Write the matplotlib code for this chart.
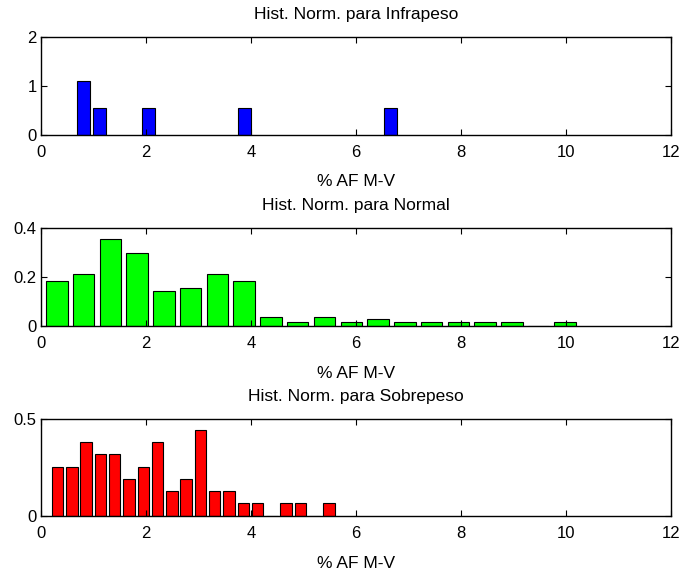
import matplotlib
matplotlib.use('Agg')
import matplotlib.pyplot as plt
from matplotlib.ticker import FormatStrFormatter

plt.rcParams['font.family'] = ['Liberation Sans', 'DejaVu Sans']
plt.rcParams['font.size'] = 12

# Infrapeso
infra_x = [0.81, 1.12, 2.04, 3.88, 6.66]
infra_y = [1.09, 0.545, 0.545, 0.545, 0.545]
infra_w = 0.25

# Normal
normal_x = [0.30, 0.81, 1.32, 1.83, 2.34, 2.85, 3.36, 3.87, 4.38, 4.89,
            5.40, 5.91, 6.42, 6.93, 7.44, 7.95, 8.46, 8.97, 9.48, 9.98]
normal_y = [0.185, 0.215, 0.358, 0.301, 0.146, 0.158, 0.215, 0.185, 0.040, 0.016,
            0.040, 0.016, 0.028, 0.016, 0.016, 0.016, 0.016, 0.016, 0.0, 0.016]
normal_w = 0.41

# Sobrepeso
sobre_x = [0.317, 0.589, 0.861, 1.133, 1.405, 1.677, 1.949, 2.221, 2.493, 2.765,
           3.037, 3.309, 3.581, 3.853, 4.125, 4.397, 4.669, 4.941, 5.213, 5.485]
sobre_y = [0.256, 0.256, 0.381, 0.319, 0.319, 0.194, 0.256, 0.381, 0.131, 0.194,
           0.445, 0.131, 0.131, 0.067, 0.067, 0.0, 0.067, 0.067, 0.0, 0.067]
sobre_w = 0.218

titles = ['Hist. Norm. para Infrapeso', 'Hist. Norm. para Normal', 'Hist. Norm. para Sobrepeso']
xlabel = '% AF M-V'
xticks = [0, 2, 4, 6, 8, 10, 12]

fig = plt.figure(figsize=(6.82, 5.73), dpi=100)
W, H = 682.0, 573.0
left, right = 41, 671
boxes = [(36.7, 135.0), (228.3, 326.3), (419.3, 516.3)]

panels = [
    (infra_x, infra_y, infra_w, (0, 0, 1), [0, 1, 2], 2),
    (normal_x, normal_y, normal_w, (0, 1, 0), [0, 0.2, 0.4], 0.4),
    (sobre_x, sobre_y, sobre_w, (1, 0, 0), [0, 0.5], 0.5),
]

for i, (x, y, w, col, yt, ymax) in enumerate(panels):
    top, bot = boxes[i]
    ax = fig.add_axes([left / W, 1 - bot / H, (right - left) / W, (bot - top) / H])
    ax.bar(x, y, width=w, color=col, edgecolor='black', linewidth=0.8)
    ax.set_xlim(0, 12)
    ax.set_ylim(0, ymax)
    ax.set_xticks(xticks)
    ax.set_yticks(yt)
    ax.yaxis.set_major_formatter(FormatStrFormatter('%g'))
    ax.tick_params(direction='in', top=True, right=True, length=4.5, width=0.8,
                   labelsize=12)
    ax.tick_params(axis='x', pad=7)
    ax.tick_params(axis='y', pad=3)
    for s in ax.spines.values():
        s.set_linewidth(1.0)
    ax.set_title(titles[i], fontsize=12.5, pad=13)
    ax.set_xlabel(xlabel, fontsize=12.5, labelpad=10.5)

fig.savefig('out.png', dpi=100)
